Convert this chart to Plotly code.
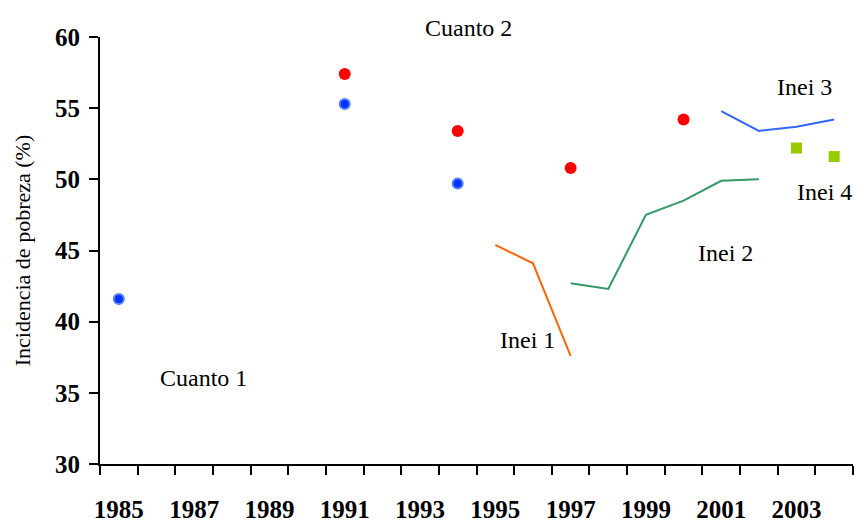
import plotly.graph_objects as go

# Data
cuanto1_years = [1985, 1991, 1994]
cuanto1_values = [41.6, 55.3, 49.7]
cuanto2_years = [1991, 1994, 1997, 2000]
cuanto2_values = [57.4, 53.4, 50.8, 54.2]
inei1_years = [1995, 1996, 1997]
inei1_values = [45.4, 44.1, 37.6]
inei2_years = [1997, 1998, 1999, 2000, 2001, 2002]
inei2_values = [42.7, 42.3, 47.5, 48.5, 49.9, 50.0]
inei3_years = [2001, 2002, 2003, 2004]
inei3_values = [54.8, 53.4, 53.7, 54.2]
inei4_years = [2003, 2004]
inei4_values = [52.2, 51.6]

tick_years = list(range(1985, 2004, 2))
boundary_ticks = [y - 0.5 for y in range(1985, 2006)]

# label text with position in paper fractions
labels = [
    ("Cuanto 2", 0.490, 1.021),
    ("Cuanto 1", 0.138, 0.202),
    ("Inei 1", 0.568, 0.290),
    ("Inei 2", 0.831, 0.494),
    ("Inei 3", 0.935, 0.883),
    ("Inei 4", 0.962, 0.637),
]

fig = go.Figure()
fig.add_trace(go.Scatter(x=inei1_years, y=inei1_values, mode="lines",
                         line=dict(color="#ff6600", width=2), name="Inei 1"))
fig.add_trace(go.Scatter(x=inei2_years, y=inei2_values, mode="lines",
                         line=dict(color="#339966", width=2), name="Inei 2"))
fig.add_trace(go.Scatter(x=inei3_years, y=inei3_values, mode="lines",
                         line=dict(color="#3366ff", width=2), name="Inei 3"))
fig.add_trace(go.Scatter(x=inei4_years, y=inei4_values, mode="markers",
                         marker=dict(symbol="square", color="#99cc00", size=11),
                         name="Inei 4"))
fig.add_trace(go.Scatter(x=cuanto1_years, y=cuanto1_values, mode="markers",
                         marker=dict(color="#0033ff", size=10,
                                     line=dict(color="#5580ff", width=2)),
                         name="Cuanto 1"))
fig.add_trace(go.Scatter(x=cuanto2_years, y=cuanto2_values, mode="markers",
                         marker=dict(color="#ff0000", size=12), name="Cuanto 2"))

for text, x, y in labels:
    fig.add_annotation(x=x, y=y, xref="paper", yref="paper", text=text,
                       showarrow=False, xanchor="center", yanchor="middle",
                       font=dict(family="Liberation Serif", size=24, color="black"))

fig.update_layout(
    width=854, height=514,
    margin=dict(l=92, r=9, t=29, b=58),
    paper_bgcolor="white", plot_bgcolor="white",
    showlegend=False,
    font=dict(family="Liberation Serif", color="black"),
)
fig.update_xaxes(
    range=[1984.5, 2004.5], automargin=False,
    tickvals=tick_years, ticktext=[str(y) for y in tick_years],
    ticks="", showgrid=False, zeroline=False,
    showline=True, linecolor="black", linewidth=2,
    tickfont=dict(family="Liberation Serif", size=25, color="black", weight="bold"),
    ticklabelstandoff=22,
    minor=dict(tickvals=boundary_ticks, ticks="outside", ticklen=9,
               tickwidth=2, tickcolor="black", showgrid=False),
)
fig.update_yaxes(
    range=[30, 60], automargin=False, tickvals=[30, 35, 40, 45, 50, 55, 60],
    ticks="outside", ticklen=9, tickwidth=2, tickcolor="black",
    showgrid=False, zeroline=False,
    showline=True, linecolor="black", linewidth=2,
    tickfont=dict(family="Liberation Serif", size=25, color="black", weight="bold"),
    ticklabelstandoff=4,
    title=dict(text="Incidencia de pobreza (%)",
               font=dict(family="Liberation Serif", size=22, color="black"),
               standoff=18),
)

fig.write_html("out.html")
